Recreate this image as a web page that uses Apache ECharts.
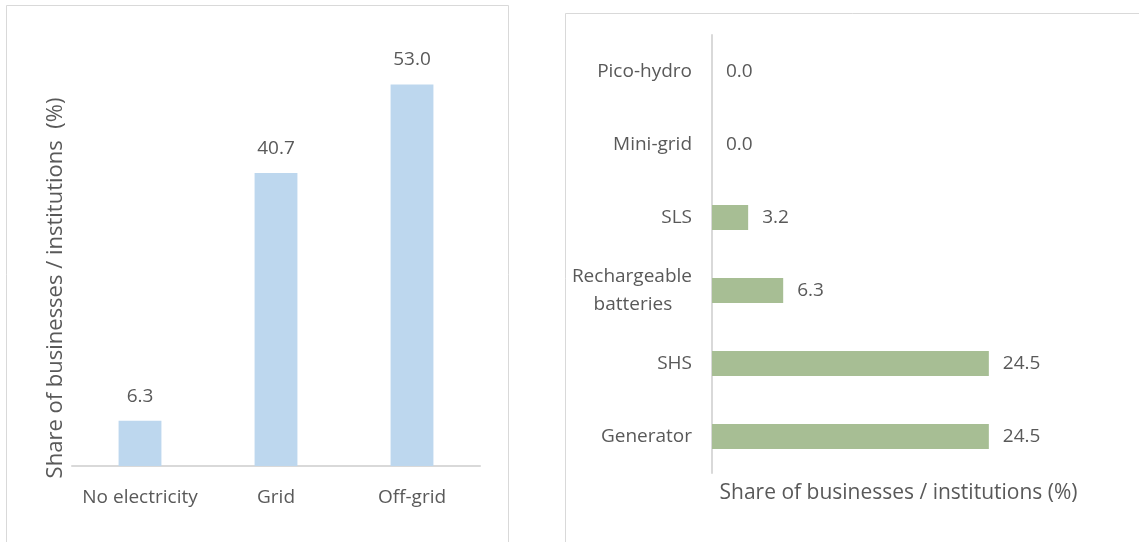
<!DOCTYPE html>
<html>
<head>
<meta charset="utf-8">
<script src="https://cdn.jsdelivr.net/npm/echarts@6/dist/echarts.min.js"></script>
<style>
  html, body { margin: 0; padding: 0; background: #fff; }
  #chart { width: 1139px; height: 542px; }
</style>
</head>
<body>
<div id="chart"></div>
<script>
// left panel: connection status
var statusCats = ['No electricity', 'Grid', 'Off-grid'];
var statusVals = [6.3, 40.7, 53.0];

// right panel: off-grid source (top to bottom)
var sourceCats = ['Pico-hydro', 'Mini-grid', 'SLS', 'Rechargeable\nbatteries    ', 'SHS', 'Generator'];
var sourceVals = [0.0, 0.0, 3.2, 6.3, 24.5, 24.5];

var axisTitle = 'Share of businesses / institutions (%)';
var txt = '#595959';
var fnt = '"Open Sans", Lato, sans-serif';

var chart = echarts.init(document.getElementById('chart'));

var option = {
    backgroundColor: '#fff',
    textStyle: { fontFamily: fnt, color: txt },
    graphic: [
        { type: 'rect', shape: { x: 6.5, y: 5.5, width: 502, height: 560 }, style: { fill: 'none', stroke: '#d9d9d9', lineWidth: 1 }, silent: true },
        { type: 'rect', shape: { x: 565.5, y: 13.5, width: 600, height: 560 }, style: { fill: 'none', stroke: '#d9d9d9', lineWidth: 1 }, silent: true }
    ],
    grid: [
        { left: 72, right: 659, top: 34, bottom: 76 },
        { left: 712, right: 88, top: 35, bottom: 69 }
    ],
    xAxis: [
        {
            gridIndex: 0,
            type: 'category',
            data: statusCats,
            axisTick: { show: false },
            axisLine: { lineStyle: { color: '#d9d9d9', width: 2 } },
            axisLabel: { color: txt, fontSize: 19, margin: 22, fontFamily: fnt, interval: 0 }
        },
        {
            gridIndex: 1,
            type: 'value',
            min: 0,
            max: 30,
            axisLine: { show: false },
            axisTick: { show: false },
            axisLabel: { show: false },
            splitLine: { show: false },
            name: axisTitle,
            nameLocation: 'middle',
            nameGap: 10,
            nameTextStyle: { color: txt, fontSize: 21, fontFamily: fnt, padding: [0, 0, 0, 34] }
        }
    ],
    yAxis: [
        {
            gridIndex: 0,
            type: 'value',
            min: 0,
            max: 60,
            axisLine: { show: false },
            axisTick: { show: false },
            axisLabel: { show: false },
            splitLine: { show: false },
            name: 'Share of businesses / institutions  (%)',
            nameLocation: 'middle',
            nameGap: 5,
            nameTextStyle: { color: txt, fontSize: 22, fontFamily: fnt, padding: [0, 76, 0, 0] }
        },
        {
            gridIndex: 1,
            type: 'category',
            data: sourceCats,
            inverse: true,
            axisTick: { show: false },
            axisLine: { lineStyle: { color: '#d9d9d9', width: 2 } },
            axisLabel: { color: txt, fontSize: 19, margin: 20, fontFamily: fnt, align: 'right', lineHeight: 28, interval: 0 }
        }
    ],
    series: [
        {
            type: 'bar',
            xAxisIndex: 0,
            yAxisIndex: 0,
            data: statusVals,
            barWidth: '31.5%',
            itemStyle: { color: '#bdd7ee' },
            label: {
                show: true,
                position: 'top',
                distance: 15,
                color: txt,
                fontSize: 19,
                fontFamily: fnt,
                formatter: function (p) { return p.value.toFixed(1); }
            }
        },
        {
            type: 'bar',
            xAxisIndex: 1,
            yAxisIndex: 1,
            data: sourceVals,
            barWidth: '34%',
            itemStyle: { color: '#a7be94' },
            label: {
                show: true,
                position: 'right',
                distance: 14,
                color: txt,
                fontSize: 19,
                fontFamily: fnt,
                formatter: function (p) { return p.value.toFixed(1); }
            }
        }
    ]
};

chart.setOption(option);
</script>
</body>
</html>
